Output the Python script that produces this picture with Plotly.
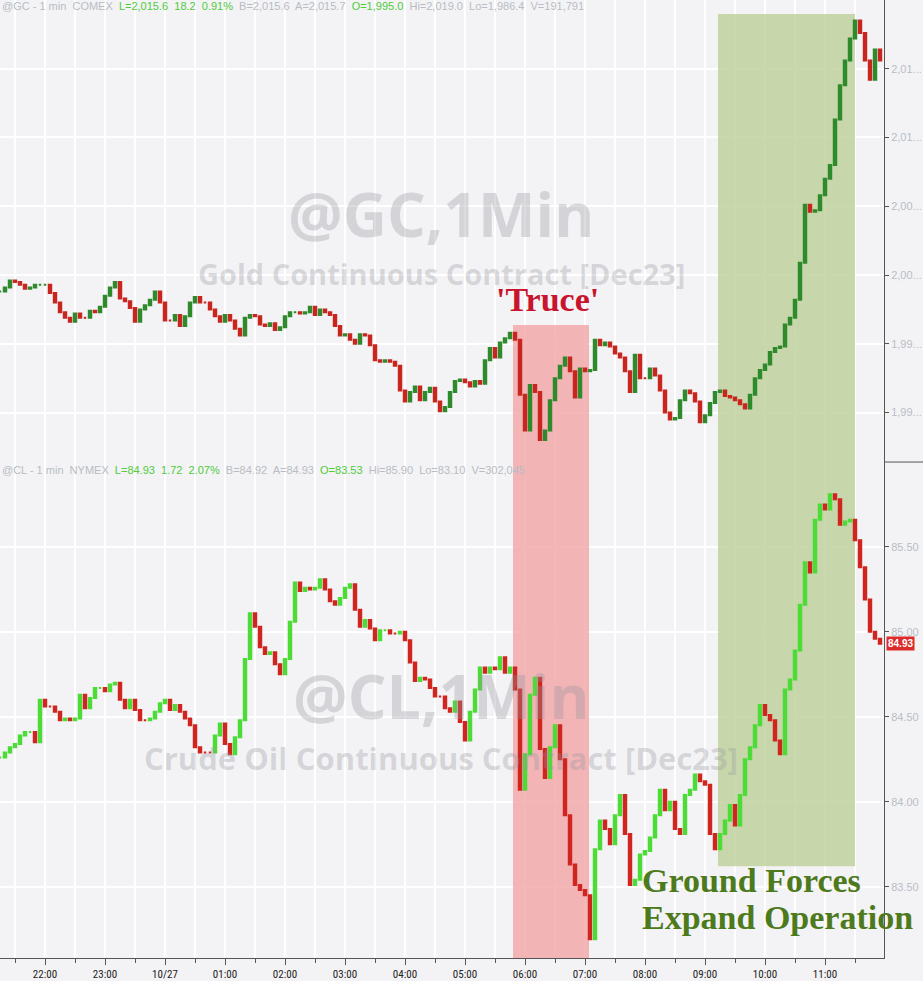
import pandas as pd
import plotly.graph_objects as go
from plotly.subplots import make_subplots

# ---- data: 5-minute closes (starting 2023-10-26 21:15) ----
gold_close = [
    1998.8, 1999.1, 1999.6, 1999.5, 1999.3, 1999.0, 1999.1, 1999.3, 1999.3, 1999.3,
    1998.7, 1998.0, 1997.3, 1996.9, 1996.6, 1997.2, 1996.9, 1996.9, 1997.4, 1997.3,
    1997.7, 1998.5, 1999.1, 1999.5, 1998.3, 1998.1, 1997.6, 1996.6, 1997.5, 1997.8,
    1998.2, 1998.8, 1998.0, 1996.7, 1996.7, 1997.1, 1996.3, 1997.0, 1998.0, 1998.4,
    1998.0, 1998.0, 1997.5, 1997.0, 1996.6, 1997.1, 1996.7, 1996.1, 1995.6, 1996.9,
    1997.1, 1997.0, 1996.4, 1996.3, 1996.5, 1996.0, 1996.2, 1997.0, 1997.3, 1997.3,
    1997.2, 1997.3, 1997.7, 1997.1, 1997.5, 1997.3, 1997.1, 1996.3, 1995.6, 1995.7,
    1995.3, 1995.0, 1995.7, 1995.6, 1994.9, 1993.8, 1993.7, 1993.8, 1993.7, 1993.4,
    1991.6, 1990.8, 1991.5, 1991.9, 1990.9, 1991.5, 1991.8, 1990.8, 1990.1, 1990.4,
    1991.5, 1992.3, 1992.4, 1992.2, 1991.9, 1992.3, 1992.1, 1993.8, 1994.7, 1994.0,
    1995.1, 1995.4, 1995.8, 1995.3, 1991.3, 1988.7, 1992.0, 1991.5, 1988.0, 1988.7,
    1990.9, 1992.5, 1993.4, 1994.0, 1993.0, 1991.1, 1993.2, 1993.0, 1993.1, 1995.3,
    1994.9, 1995.1, 1994.8, 1994.3, 1994.0, 1993.0, 1991.5, 1994.2, 1992.5, 1992.5,
    1993.2, 1992.7, 1991.6, 1990.0, 1989.5, 1989.6, 1990.9, 1991.6, 1991.4, 1990.8,
    1989.3, 1989.8, 1990.7, 1991.5, 1991.6, 1991.2, 1991.1, 1990.9, 1990.6, 1990.3,
    1991.3, 1992.5, 1993.1, 1993.5, 1994.4, 1994.7, 1994.8, 1996.4, 1996.9, 1998.2,
    2000.9, 2005.1, 2004.6, 2004.7, 2005.8, 2007.0, 2008.0, 2011.3, 2013.8, 2015.6,
    2017.2, 2018.5, 2017.6, 2015.6, 2014.2, 2016.4, 2015.6,
]

cl_close = [
    84.26, 84.29, 84.32, 84.34, 84.39, 84.41, 84.41, 84.35, 84.60, 84.56,
    84.56, 84.53, 84.48, 84.49, 84.48, 84.49, 84.63, 84.55, 84.61, 84.67,
    84.67, 84.65, 84.69, 84.70, 84.60, 84.55, 84.60, 84.54, 84.48, 84.48,
    84.49, 84.53, 84.58, 84.60, 84.54, 84.57, 84.53, 84.49, 84.45, 84.32,
    84.29, 84.29, 84.29, 84.39, 84.46, 84.34, 84.28, 84.38, 84.48, 84.84,
    85.11, 85.03, 84.91, 84.87, 84.88, 84.81, 84.75, 84.84, 85.06, 85.29,
    85.24, 85.26, 85.25, 85.26, 85.31, 85.25, 85.18, 85.16, 85.20, 85.26,
    85.28, 85.13, 85.03, 85.07, 85.02, 84.95, 85.01, 85.01, 84.99, 84.99,
    85.00, 84.95, 84.82, 84.71, 84.73, 84.72, 84.67, 84.62, 84.62, 84.55,
    84.53, 84.59, 84.47, 84.36, 84.53, 84.66, 84.79, 84.76, 84.79, 84.78,
    84.85, 84.76, 84.79, 84.66, 84.07, 84.28, 84.63, 84.73, 84.31, 84.14,
    84.32, 84.45, 84.25, 83.92, 83.63, 83.51, 83.48, 83.45, 83.19, 83.72,
    83.89, 83.84, 83.75, 83.92, 84.04, 83.81, 83.51, 83.54, 83.69, 83.71,
    83.79, 83.92, 84.07, 83.95, 84.00, 83.84, 83.81, 84.04, 84.07, 84.16,
    84.12, 84.10, 83.81, 83.72, 83.81, 83.89, 83.98, 83.86, 84.04, 84.25,
    84.32, 84.45, 84.57, 84.51, 84.48, 84.36, 84.28, 84.66, 84.72, 84.89,
    85.16, 85.41, 85.35, 85.66, 85.75, 85.72, 85.81, 85.78, 85.63, 85.65,
    85.66, 85.54, 85.38, 85.19, 85.00, 84.96, 84.93,
]

x_tick_times = ["2023-10-26 22:00", "2023-10-26 23:00", "2023-10-27 00:00", "2023-10-27 01:00",
                "2023-10-27 02:00", "2023-10-27 03:00", "2023-10-27 04:00", "2023-10-27 05:00",
                "2023-10-27 06:00", "2023-10-27 07:00", "2023-10-27 08:00", "2023-10-27 09:00",
                "2023-10-27 10:00", "2023-10-27 11:00"]
x_tick_labels = ["22:00", "23:00", "10/27", "01:00", "02:00", "03:00", "04:00", "05:00",
                 "06:00", "07:00", "08:00", "09:00", "10:00", "11:00"]

gold_tick_vals = [2015, 2010, 2005, 2000, 1995, 1990]
gold_tick_text = ["2,01...", "2,01...", "2,00...", "2,00...", "1,99...", "1,99..."]
cl_tick_vals = [85.5, 85.0, 84.5, 84.0, 83.5]
cl_tick_text = ["85.50", "85.00", "84.50", "84.00", "83.50"]

gold_range = [1986.41, 2019.99]
cl_range = [83.08, 86.0]

# highlighted periods: start/end time, and the price span covered in each panel
truce_period = ["2023-10-27 05:48", "2023-10-27 07:04"]
truce_gold = [1986.41, 1996.37]
truce_cl = [83.08, 86.0]
ground_period = ["2023-10-27 09:13", "2023-10-27 11:30"]
ground_gold = [1986.41, 2018.97]
ground_cl = [83.62, 86.0]

cl_last = 84.93

times = pd.date_range("2023-10-26 21:15", periods=len(gold_close), freq="5min")
gold_open = [gold_close[0]] + gold_close[:-1]
cl_open = [cl_close[0]] + cl_close[:-1]

BG = "#f3f3f5"
GRID = "#ffffff"
RED_SHADE = "rgba(242,164,166,0.8)"
GREEN_SHADE = "rgba(187,207,152,0.8)"

fig = make_subplots(rows=2, cols=1, shared_xaxes=True, vertical_spacing=0,
                    row_heights=[462, 496])


def shade(period, yr, color, row):
    s, e = pd.Timestamp(period[0]), pd.Timestamp(period[1])
    mid = s + (e - s) / 2
    width_ms = (e - s).total_seconds() * 1000
    fig.add_trace(go.Bar(x=[mid], y=[yr[1] - yr[0]], base=[yr[0]], width=[width_ms],
                         marker=dict(color=color, line=dict(width=0)),
                         hoverinfo="skip", showlegend=False), row=row, col=1)


shade(truce_period, truce_gold, RED_SHADE, 1)
shade(ground_period, ground_gold, GREEN_SHADE, 1)
shade(truce_period, truce_cl, RED_SHADE, 2)
shade(ground_period, ground_cl, GREEN_SHADE, 2)

fig.add_trace(go.Candlestick(
    x=times, open=gold_open, close=gold_close,
    high=[max(o, c) for o, c in zip(gold_open, gold_close)],
    low=[min(o, c) for o, c in zip(gold_open, gold_close)],
    increasing=dict(line=dict(color="#2f8a2c", width=2), fillcolor="#2f8a2c"),
    decreasing=dict(line=dict(color="#c8261f", width=2), fillcolor="#c8261f"),
    whiskerwidth=0, showlegend=False, hoverinfo="skip"), row=1, col=1)

fig.add_trace(go.Candlestick(
    x=times, open=cl_open, close=cl_close,
    high=[max(o, c) for o, c in zip(cl_open, cl_close)],
    low=[min(o, c) for o, c in zip(cl_open, cl_close)],
    increasing=dict(line=dict(color="#4cdc36", width=2), fillcolor="#4cdc36"),
    decreasing=dict(line=dict(color="#d0261f", width=2), fillcolor="#d0261f"),
    whiskerwidth=0, showlegend=False, hoverinfo="skip"), row=2, col=1)

xrange = ["2023-10-26 21:15", "2023-10-27 11:59"]
axis_font = dict(family="Liberation Sans Narrow, Roboto Condensed, Liberation Sans, Arial", size=11, color="#222")

fig.update_xaxes(range=xrange, rangeslider_visible=False, showgrid=True, gridcolor=GRID, gridwidth=1.5,
                 tickvals=x_tick_times, ticktext=x_tick_labels, automargin=False,
                 minor=dict(dtick=30 * 60 * 1000, showgrid=True, gridcolor=GRID, gridwidth=1.5,
                            ticks="outside", ticklen=4, tickcolor="#555"),
                 zeroline=False)
fig.update_xaxes(showticklabels=False, ticks="", row=1, col=1)
fig.update_xaxes(showticklabels=True, ticks="outside", ticklen=6, tickcolor="#555", tickfont=axis_font,
                 showline=True, linecolor="#555", linewidth=1, row=2, col=1)

ytick_font = dict(family="Liberation Sans, Arial", size=11, color="#b9bdc6")
fig.update_yaxes(side="right", showgrid=True, gridcolor=GRID, gridwidth=1.5, zeroline=False,
                 showline=True, linecolor="#555", linewidth=1, ticks="outside", ticklen=4,
                 tickcolor="#555", tickfont=ytick_font, automargin=False)
fig.update_yaxes(range=gold_range, tickvals=gold_tick_vals, ticktext=gold_tick_text, row=1, col=1)
fig.update_yaxes(range=cl_range, tickvals=cl_tick_vals, ticktext=cl_tick_text, row=2, col=1)

shapes = [
    dict(type="line", xref="paper", yref="paper", x0=1, x1=1.05, y0=0.5177, y1=0.5177,
         line=dict(color="#555", width=1)),
]

wm_color = "rgba(150,150,158,0.33)"
wm_family = "Open Sans, DejaVu Sans, sans-serif"
gray = "#b8bcc4"
green = "#4fcb3b"


def sp(t, c):
    return f"<span style='color:{c}'>{t}</span>"


gc_header = (sp("@GC - 1 min  COMEX  ", gray) + sp("L=2,015.6  18.2  0.91%  ", green)
             + sp("B=2,015.6  A=2,015.7  ", gray) + sp("O=1,995.0  ", green)
             + sp("Hi=2,019.0  Lo=1,986.4  V=191,791", gray))
cl_header = (sp("@CL - 1 min  NYMEX  ", gray) + sp("L=84.93  1.72  2.07%  ", green)
             + sp("B=84.92  A=84.93  ", gray) + sp("O=83.53  ", green)
             + sp("Hi=85.90  Lo=83.10  V=302,045", gray))

serif = "Liberation Serif, DejaVu Serif, serif"
annotations = [
    dict(text="<b>@GC,1Min</b>", x=0.499, y=0.7775, font=dict(family=wm_family, size=61, color=wm_color)),
    dict(text="<b>Gold Continuous Contract [Dec23]</b>", x=0.499, y=0.714,
         font=dict(family=wm_family, size=29, color=wm_color)),
    dict(text="<b>@CL,1Min</b>", x=0.499, y=0.2735, font=dict(family=wm_family, size=61, color=wm_color)),
    dict(text="<b>Crude Oil Continuous Contract [Dec23]</b>", x=0.499, y=0.2088,
         font=dict(family=wm_family, size=31, color=wm_color)),
    dict(text="<b>'Truce'</b>", x=0.619, y=0.687, font=dict(family=serif, size=34, color="#c8142c")),
    dict(text="<b>Ground Forces</b>", x=0.724, y=0.0814, xanchor="left",
         font=dict(family=serif, size=34, color="#4d7a1c")),
    dict(text="<b>Expand Operation</b>", x=0.724, y=0.0418, xanchor="left",
         font=dict(family=serif, size=34, color="#4d7a1c")),
    dict(text=gc_header, x=0.0, y=0.9937, xanchor="left",
         font=dict(family="Liberation Sans, Arial", size=11, color=gray)),
    dict(text=cl_header, x=0.0, y=0.5094, xanchor="left",
         font=dict(family="Liberation Sans, Arial", size=11, color=gray)),
]
for a in annotations:
    a.update(xref="paper", yref="paper", showarrow=False, yanchor="middle")
    a.setdefault("xanchor", "center")

annotations.append(
    dict(text=f"<b>{cl_last:.2f}</b>", x=1, y=cl_last, xref="paper", yref="y2", xanchor="left",
         yanchor="middle", xshift=2, showarrow=False, bgcolor="#dd2a2a", borderpad=1,
         font=dict(family="Liberation Sans, Arial", size=10, color="#ffffff")))

fig.update_layout(
    width=923, height=981,
    margin=dict(l=0, r=39, t=0, b=23, autoexpand=False),
    paper_bgcolor=BG, plot_bgcolor=BG,
    showlegend=False,
    barmode="overlay",
    shapes=shapes,
    annotations=annotations,
    hovermode=False,
)

fig.write_html("out.html", config={"displayModeBar": False},
               post_script="document.body.style.margin='0';document.body.style.background='%s';" % BG)
